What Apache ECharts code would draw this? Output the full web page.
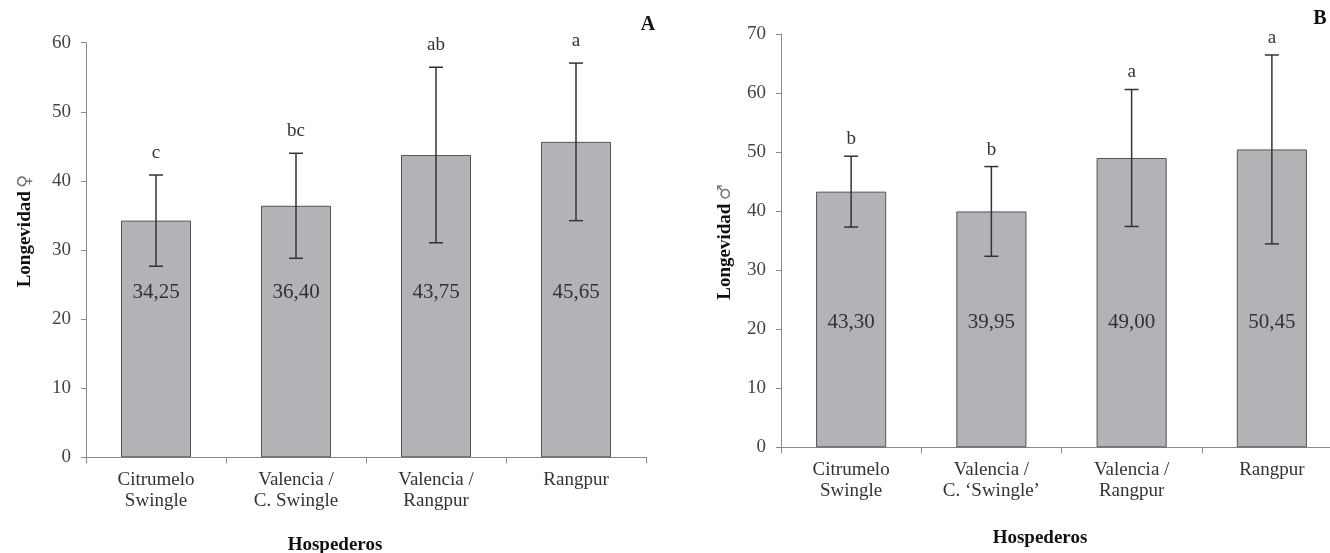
<!DOCTYPE html>
<html>
<head>
<meta charset="utf-8">
<script src="https://cdn.jsdelivr.net/npm/echarts@6/dist/echarts.min.js"></script>
<style>
html,body{margin:0;padding:0;background:#fff;overflow:hidden;}
#chart{width:1345px;height:553px;}
</style>
</head>
<body>
<div id="chart"></div>
<script>
// ---- data ----
var categoriesA = ['Citrumelo\nSwingle', 'Valencia /\nC. Swingle', 'Valencia /\nRangpur', 'Rangpur'];
var categoriesB = ['Citrumelo\nSwingle', 'Valencia /\nC. \u2018Swingle\u2019', 'Valencia /\nRangpur', 'Rangpur'];
var meanA = [34.25, 36.40, 43.75, 45.65];
var errA = [6.6, 7.6, 12.7, 11.4];
var lettersA = ['c', 'bc', 'ab', 'a'];
var meanB = [43.30, 39.95, 49.00, 50.45];
var errB = [6.0, 7.6, 11.6, 16.0];
var lettersB = ['b', 'b', 'a', 'a'];

var FONT = "'Liberation Serif', 'DejaVu Serif', serif";
var chart = echarts.init(document.getElementById('chart'), null, {renderer: 'canvas'});

function fmt(v) { return v.toFixed(2).replace('.', ','); }

function errRender(means, errs, letters, letterGap) {
  return function (params, api) {
    var i = api.value(0);
    var m = means[i], e = errs[i];
    var top = api.coord([i, m + e]);
    var bot = api.coord([i, m - e]);
    var hw = 7;
    var st = {stroke: '#333', lineWidth: 1.5};
    return {
      type: 'group',
      children: [
        {type: 'line', shape: {x1: top[0], y1: top[1], x2: bot[0], y2: bot[1]}, style: st},
        {type: 'line', shape: {x1: top[0] - hw, y1: top[1], x2: top[0] + hw, y2: top[1]}, style: st},
        {type: 'line', shape: {x1: bot[0] - hw, y1: bot[1], x2: bot[0] + hw, y2: bot[1]}, style: st},
        {type: 'text', x: top[0], y: top[1] - letterGap,
          style: {text: letters[i], font: '19px ' + FONT, fill: '#333', align: 'center', verticalAlign: 'middle'}}
      ]
    };
  };
}

function yAxisCfg(gridIndex, max) {
  return {
    type: 'value', gridIndex: gridIndex, min: 0, max: max, interval: 10,
    axisLine: {show: true, lineStyle: {color: '#8a8a8a', width: 1}},
    axisTick: {show: true, length: 5, lineStyle: {color: '#8a8a8a'}},
    splitLine: {show: false},
    axisLabel: {margin: 15, color: '#444', fontFamily: FONT, fontSize: 19}
  };
}
function xAxisCfg(gridIndex, cats) {
  return {
    type: 'category', gridIndex: gridIndex, data: cats,
    axisLine: {show: true, lineStyle: {color: '#8a8a8a', width: 1}},
    axisTick: {show: true, length: 6, lineStyle: {color: '#8a8a8a'}},
    axisLabel: {margin: 12, color: '#333', fontFamily: FONT, fontSize: 19, lineHeight: 21, interval: 0}
  };
}
function barSeries(idx, means, dist) {
  return {
    type: 'bar', xAxisIndex: idx, yAxisIndex: idx, data: means, barWidth: '50%',
    itemStyle: {color: '#b2b3b6', borderColor: '#555', borderWidth: 1},
    label: {show: true, position: 'insideBottom', distance: dist, formatter: function (p) { return fmt(p.value); },
      color: '#333', fontFamily: FONT, fontSize: 21},
    silent: true
  };
}

var option = {
  animation: false,
  backgroundColor: '#fff',
  grid: [
    {left: 86, width: 560, top: 42.7, height: 414.6, containLabel: false},
    {left: 781, width: 561, top: 34, height: 413.3, containLabel: false}
  ],
  xAxis: [xAxisCfg(0, categoriesA), xAxisCfg(1, categoriesB)],
  yAxis: [yAxisCfg(0, 60), yAxisCfg(1, 70)],
  series: [
    barSeries(0, meanA, 154),
    barSeries(1, meanB, 114),
    {type: 'custom', xAxisIndex: 0, yAxisIndex: 0, renderItem: errRender(meanA, errA, lettersA, 22),
      data: meanA.map(function (v, i) { return [i, v]; }), z: 10, silent: true},
    {type: 'custom', xAxisIndex: 1, yAxisIndex: 1, renderItem: errRender(meanB, errB, lettersB, 17),
      data: meanB.map(function (v, i) { return [i, v]; }), z: 10, silent: true}
  ],
  graphic: [
    {type: 'text', x: 648, y: 25, style: {text: 'A', font: 'bold 20px ' + FONT, fill: '#111', align: 'center', verticalAlign: 'middle'}},
    {type: 'text', x: 1320, y: 19, style: {text: 'B', font: 'bold 20px ' + FONT, fill: '#111', align: 'center', verticalAlign: 'middle'}},
    {type: 'text', x: 335, y: 545, style: {text: 'Hospederos', font: 'bold 19px ' + FONT, fill: '#111', align: 'center', verticalAlign: 'middle'}},
    {type: 'text', x: 1040, y: 538, style: {text: 'Hospederos', font: 'bold 19px ' + FONT, fill: '#111', align: 'center', verticalAlign: 'middle'}},
    {type: 'text', x: 25, y: 231, rotation: Math.PI / 2,
      style: {text: '{b|Longevidad} {s|\u2640}', align: 'center', verticalAlign: 'middle',
        rich: {b: {font: 'bold 19px ' + FONT, fill: '#111'}, s: {font: '18px DejaVu Sans', fill: '#777'}}}},
    {type: 'text', x: 725, y: 242, rotation: Math.PI / 2,
      style: {text: '{b|Longevidad} {s|\u2642}', align: 'center', verticalAlign: 'middle',
        rich: {b: {font: 'bold 19px ' + FONT, fill: '#111'}, s: {font: '18px DejaVu Sans', fill: '#777'}}}}
  ]
};
chart.setOption(option);
</script>
</body>
</html>
